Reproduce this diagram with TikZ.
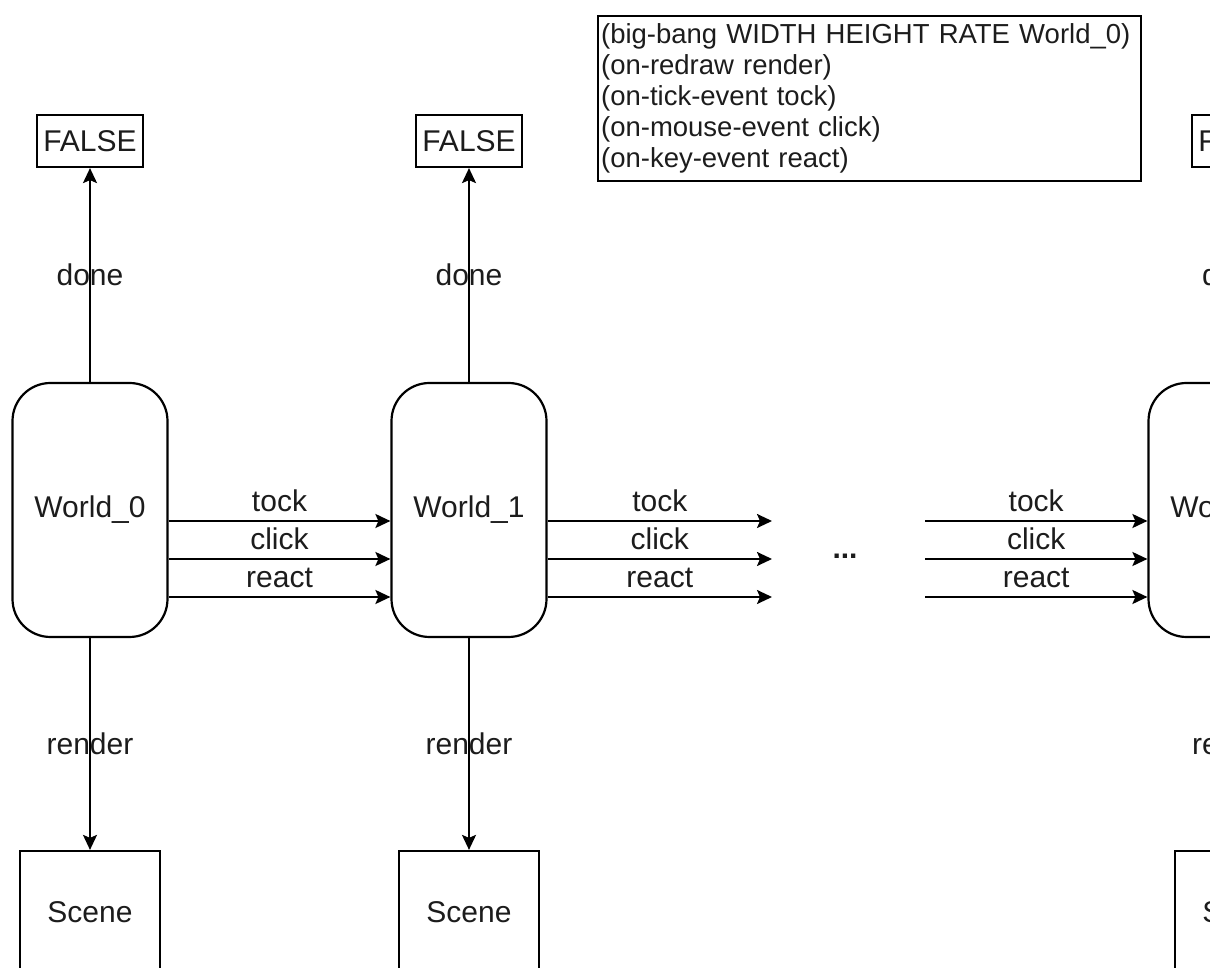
\documentclass[tikz,border=0pt]{standalone}
\usepackage{fontspec}
\setmainfont{Liberation Sans}
\usetikzlibrary{positioning,arrows.meta}
\definecolor{ink}{HTML}{1C1C1C}

\begin{document}
\begin{tikzpicture}[x=1pt,y=1pt,font=\fontsize{30pt}{31pt}\selectfont,
  every node/.style={inner sep=0pt,text=ink},
  world/.style={draw,line width=2.2pt,rounded corners=38pt,minimum width=155pt,minimum height=254pt},
  flag/.style={draw,line width=2.2pt,minimum width=106pt,minimum height=52pt},
  scenebox/.style={draw,line width=2.2pt,minimum width=140pt,minimum height=122pt},
  flow/.style={line width=2.2pt,-{Stealth[length=15pt,width=14pt,inset=3pt]}},
  lbl/.style={midway,above=8pt}]
\useasboundingbox (0,0) rectangle (1210,967);
\clip (0,0) rectangle (1210,967);
% Handlers given to big-bang, top right.
\node[draw,line width=2.2pt,anchor=north west,align=left,text width=537pt,minimum height=165pt,inner xsep=3pt,
  font=\fontsize{27.5pt}{31pt}\selectfont] (spec) at (597,952)
  {(big-bang WIDTH HEIGHT RATE World\_0)\\(on-redraw render)\\(on-tick-event tock)\\(on-mouse-event click)\\(on-key-event react)};
% One column per world: done test above, rendered scene below.
\foreach \x/\fx/\id in {90/90/0,469/469/1,1226/1245/n}{
  \node[world] (w\id) at (\x,457) {World\_\id};
  \node[flag] (f\id) at (\fx,826) {FALSE};
  \node[scenebox] (s\id) at (\fx,55) {Scene};
  \draw[flow] (w\id.north) -- node[midway] {done} (f\id.south);
  \draw[flow] (w\id.south) -- node[midway] {render} (s\id.north);
}
% Events carry one world to the next.
\coordinate (gapL) at (772,457);
\coordinate (gapR) at (925,457);
\node[anchor=base] (gap) at (845,408) {\textbf{...}};
\foreach \dy/\ev in {-11/tock,-49/click,-87/react}{
  \draw[flow] ([yshift=\dy pt]w0.east) -- node[lbl] {\ev} ([yshift=\dy pt]w1.west);
  \coordinate (a) at ([yshift=\dy pt]w1.east);
  \draw[flow] (a) -- node[lbl] {\ev} (a -| gapL);
  \coordinate (b) at ([yshift=\dy pt]wn.west);
  \draw[flow] (b -| gapR) -- node[lbl] {\ev} (b);
}
\end{tikzpicture}
\end{document}
